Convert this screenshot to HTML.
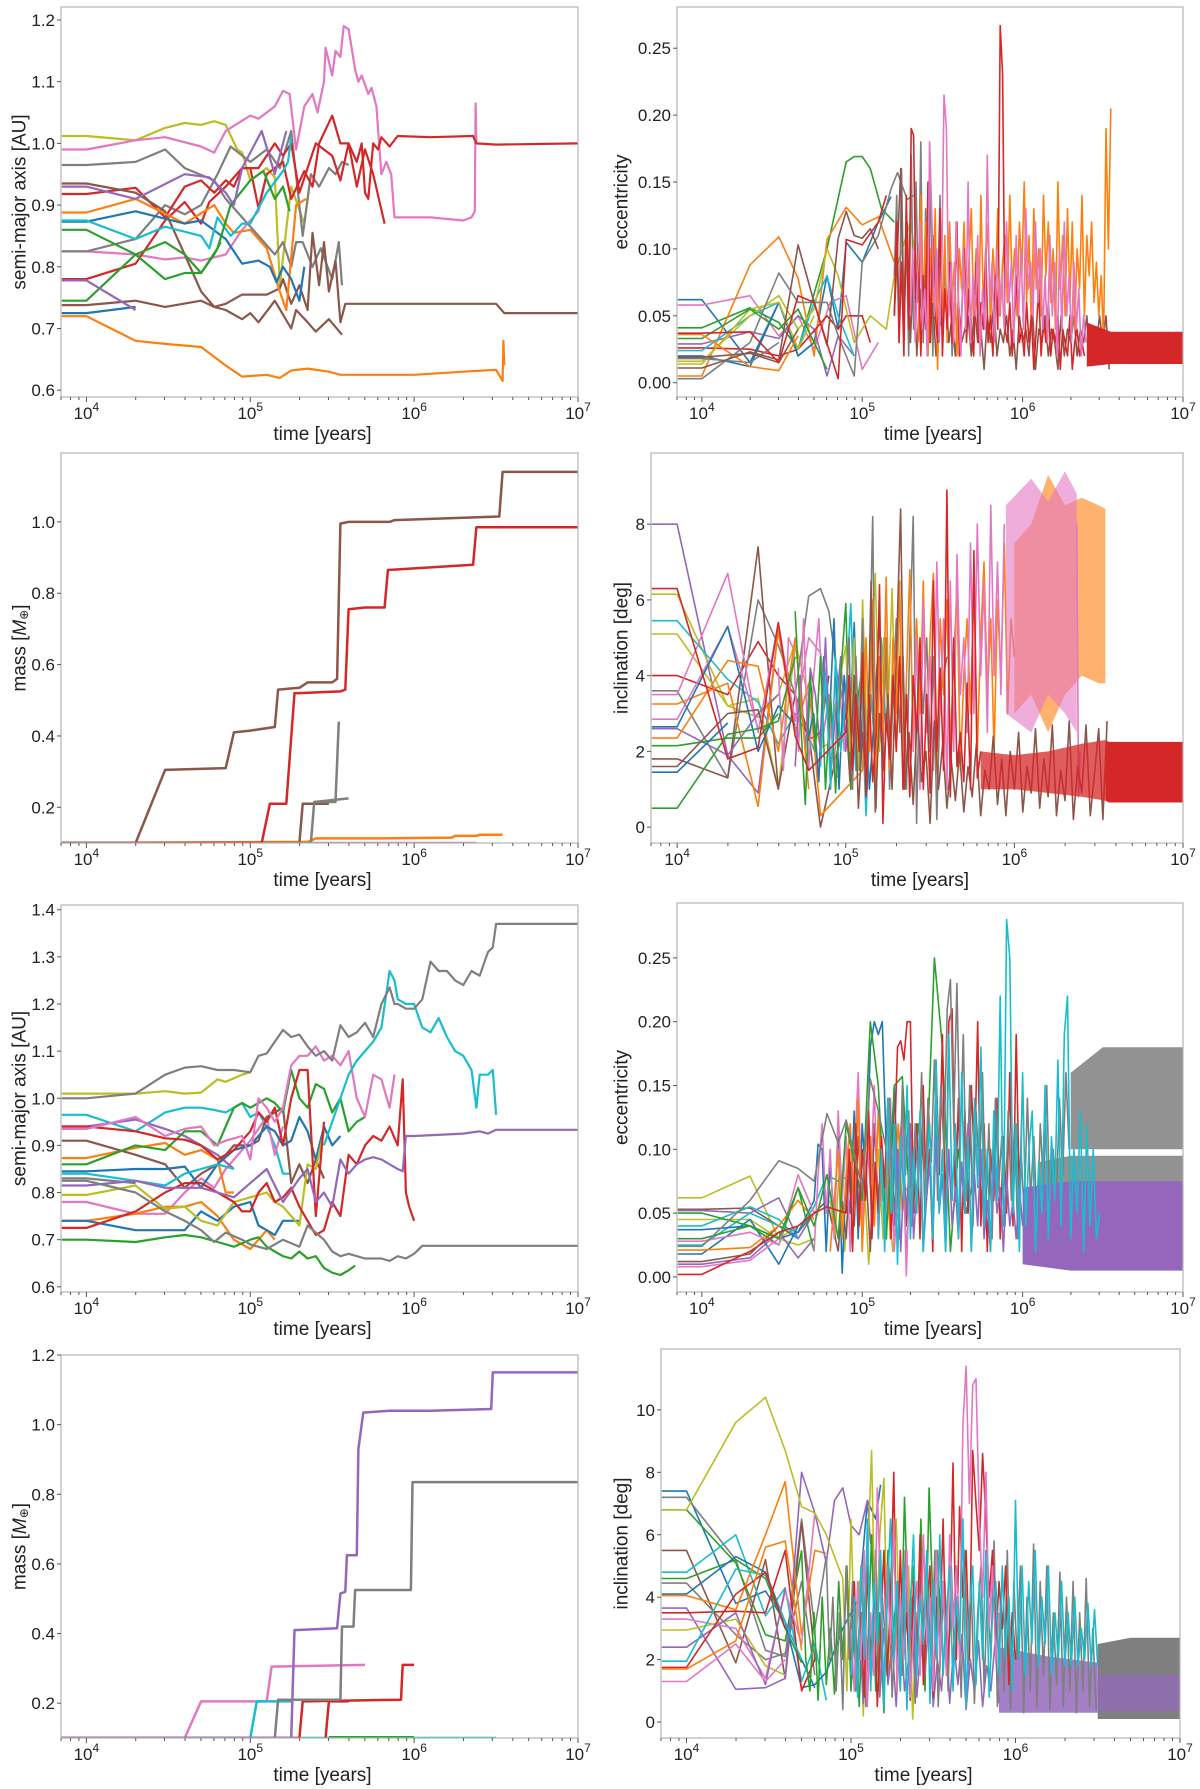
<!DOCTYPE html>
<html>
<head>
<meta charset="utf-8">
<style>
  html,body{margin:0;padding:0;background:#fff;}
  svg{display:block;font-family:"Liberation Sans","DejaVu Sans",sans-serif;}
</style>
</head>
<body>
<svg id="fig" xmlns="http://www.w3.org/2000/svg" width="1200" height="1789" viewBox="0 0 1200 1789">
  <rect width="1200" height="1789" fill="#fff"/>
</svg>
<script>
// ===== shared data: tick labels =====
const xTickExps = [4, 5, 6, 7];
const xLimLog = [3.845, 7];
const ticksA = [0.6, 0.7, 0.8, 0.9, 1.0, 1.1, 1.2];
const ticksB = [0.00, 0.05, 0.10, 0.15, 0.20, 0.25];
const ticksC = [0.2, 0.4, 0.6, 0.8, 1.0];
const ticksD = [0, 2, 4, 6, 8];
const ticksE = [0.6, 0.7, 0.8, 0.9, 1.0, 1.1, 1.2, 1.3, 1.4];
const ticksF = [0.00, 0.05, 0.10, 0.15, 0.20, 0.25];
const ticksG = [0.2, 0.4, 0.6, 0.8, 1.0, 1.2];
const ticksH = [0, 2, 4, 6, 8, 10];

const COL = {blue:'#1f77b4',orange:'#ff7f0e',green:'#2ca02c',red:'#d62728',purple:'#9467bd',brown:'#8c564b',pink:'#e377c2',gray:'#7f7f7f',olive:'#bcbd22',cyan:'#17becf'};
// style: opacity of dense-oscillation bands (keyed panel-color-startT)
const bandOpacity = {'d-orange-6':0.6,'d-pink-5.95':0.6,'d-red-5.8':0.75,'f-gray-6.3':0.85,'f-gray-6.1':0.85,'h-purple-5.9':0.85,'h-purple-6.5':0.7};

// ===== Panel A =====
const seriesA = [
 {c:'olive',t:[3.85,4,4.3,4.48,4.6,4.7,4.78,4.85,4.92,4.95,5.0,5.1,5.15,5.18,5.25,5.33,5.37],v:[1.012,1.012,1.005,1.025,1.033,1.03,1.036,1.03,0.99,0.985,0.94,0.96,0.945,0.77,0.93,0.87,0.95]},
 {c:'pink',t:[3.85,4,4.3,4.48,4.7,4.78,4.85,5.0,5.05,5.15,5.2,5.24,5.28,5.33,5.38,5.41,5.45,5.46,5.5,5.52,5.55,5.57,5.6,5.64,5.66,5.68,5.72,5.74,5.77,5.8,5.83,5.86,5.88,6.1,6.3,6.35,6.37,6.375,6.38],v:[0.99,0.99,1.005,1.01,0.995,0.985,1.02,1.045,1.04,1.06,1.085,1.08,0.99,1.06,1.08,1.05,1.1,1.155,1.11,1.15,1.14,1.19,1.185,1.12,1.1,1.11,1.08,1.09,1.06,0.95,0.97,0.95,0.88,0.88,0.875,0.88,0.89,1.065,1.0]},
 {c:'pink',t:[3.85,4,4.3,4.48,4.6,4.7,4.85,4.95,5.05,5.1],v:[0.825,0.825,0.82,0.812,0.815,0.81,0.82,0.86,0.89,0.95]},
 {c:'gray',t:[3.85,4,4.3,4.48,4.6,4.78,4.85,4.95,5.05,5.15,5.2,5.25,5.28,5.32,5.38,5.43,5.5,5.54,5.56],v:[0.965,0.965,0.97,0.99,0.96,0.94,0.91,0.88,0.85,0.82,0.84,0.8,0.84,0.84,0.8,0.83,0.78,0.84,0.77]},
 {c:'gray',t:[3.85,4,4.3,4.48,4.6,4.7,4.8,4.88,5.0,5.1,5.18,5.25,5.32,5.37,5.42,5.48,5.52,5.56,5.6],v:[0.825,0.825,0.845,0.9,0.885,0.9,0.95,0.995,0.97,0.99,0.96,1.02,0.85,0.95,0.93,0.96,0.95,0.97,0.965]},
 {c:'red',t:[3.85,4,4.3,4.48,4.6,4.7,4.75,4.85,4.95,5.05,5.15,5.2,5.25,5.3,5.4,5.45,5.5,5.55,5.6,5.65,5.7,5.75,5.82],v:[0.78,0.78,0.805,0.875,0.905,0.87,0.905,0.93,0.96,0.96,1.0,0.98,1.0,0.92,1.0,0.99,0.98,0.94,1.0,0.93,0.99,0.95,0.87]},
 {c:'red',t:[3.85,4,4.3,4.48,4.6,4.7,4.78,4.85,4.9,4.95,5.0,5.05,5.1,5.2,5.25,5.33,5.38,5.42,5.5,5.55,5.6,5.65,5.68,5.7,5.72,5.75,5.78,5.8,5.85,5.9,6.1,6.36,6.38,6.5,7],v:[0.918,0.918,0.928,0.88,0.93,0.94,0.92,0.94,0.93,0.96,0.96,0.895,0.95,0.97,0.91,0.955,0.93,1.0,1.045,1.0,1.0,0.97,1.0,0.92,0.91,1.0,0.99,1.01,0.995,1.012,1.01,1.012,1.0,0.998,1.0]},
 {c:'brown',t:[3.85,4,4.3,4.48,4.6,4.7,4.78,4.85,4.95,5.0,5.05,5.15,5.25,5.28,5.35,5.4,5.48,5.56],v:[0.935,0.935,0.92,0.89,0.82,0.76,0.735,0.73,0.715,0.725,0.71,0.745,0.7,0.73,0.71,0.695,0.715,0.69]},
 {c:'brown',t:[3.85,4,4.3,4.48,4.7,4.78,4.85,4.95,5.1,5.18,5.2,5.25,5.3,5.35,5.38,5.42,5.45,5.48,5.52,5.55,5.58,5.9,6.5,6.55,7],v:[0.738,0.738,0.745,0.735,0.745,0.735,0.74,0.755,0.755,0.765,0.78,0.74,0.77,0.73,0.855,0.77,0.84,0.76,0.81,0.71,0.74,0.74,0.74,0.725,0.725]},
 {c:'orange',t:[3.85,4,4.3,4.6,4.78,4.85,4.9,5.0,5.1,5.18,5.22,5.28,5.34],v:[0.888,0.888,0.91,0.87,0.9,0.87,0.855,0.86,0.83,0.76,0.73,0.9,0.91]},
 {c:'orange',t:[3.85,4,4.3,4.48,4.7,4.85,4.95,5.1,5.18,5.25,5.35,5.48,5.55,6.0,6.3,6.5,6.54,6.545,6.55],v:[0.72,0.72,0.68,0.675,0.67,0.64,0.622,0.625,0.62,0.632,0.635,0.63,0.625,0.625,0.63,0.633,0.615,0.68,0.64]},
 {c:'blue',t:[3.85,4,4.3,4.6,4.7,4.85,4.95,5.05,5.12,5.16,5.2,5.25,5.3,5.33],v:[0.873,0.873,0.89,0.87,0.875,0.845,0.805,0.81,0.8,0.775,0.8,0.78,0.745,0.8]},
 {c:'blue',t:[3.85,4,4.3],v:[0.725,0.725,0.735]},
 {c:'cyan',t:[3.85,4,4.3,4.48,4.7,4.75,4.8,4.88,4.95,5.0,5.1,5.2,5.23,5.25],v:[0.875,0.875,0.845,0.865,0.85,0.83,0.88,0.85,0.87,0.87,0.92,0.955,0.97,1.01]},
 {c:'green',t:[3.85,4,4.3,4.48,4.6,4.7,4.8,4.88,5.0,5.08,5.15,5.2,5.24],v:[0.86,0.86,0.82,0.78,0.79,0.79,0.83,0.9,0.94,0.955,0.91,0.93,0.89]},
 {c:'green',t:[3.85,4,4.3,4.48,4.6,4.7,4.78,4.82],v:[0.745,0.745,0.82,0.84,0.82,0.79,0.82,0.84]},
 {c:'purple',t:[3.85,4,4.3,4.6,4.75,4.85,4.9,4.95,5.07,5.15,5.22],v:[0.93,0.93,0.91,0.95,0.945,0.92,0.9,0.96,1.02,0.95,1.02]},
 {c:'purple',t:[3.85,4,4.3],v:[0.778,0.778,0.73]}
];

// ===== Panel B =====
const seriesB = [
 {c:'blue',t:[3.85,4,4.3,4.48,4.6,4.7,4.78,4.85,4.9,5.0,5.1,5.18],v:[0.062,0.062,0.015,0.06,0.02,0.03,0.08,0.04,0.105,0.09,0.12,0.139]},
 {c:'pink',t:[3.85,4,4.3,4.48,4.6,4.7,4.8,4.9,5.0,5.1],v:[0.058,0.058,0.065,0.035,0.05,0.025,0.06,0.065,0.01,0.03]},
 {c:'green',t:[3.85,4,4.3,4.48,4.6,4.78,4.9,4.95,5.0,5.05,5.12,5.2],v:[0.041,0.041,0.056,0.045,0.025,0.1,0.165,0.169,0.169,0.16,0.13,0.12]},
 {c:'orange',t:[3.85,4,4.3,4.48,4.6,4.7,4.78,4.9,5.0,5.1,5.2],v:[0.005,0.005,0.088,0.109,0.078,0.02,0.107,0.131,0.118,0.124,0.09]},
 {c:'purple',t:[3.85,4,4.3,4.48,4.6,4.7,4.78,4.85,4.95],v:[0.029,0.029,0.038,0.033,0.05,0.04,0.005,0.035,0.02]},
 {c:'red',t:[3.85,4,4.3,4.48,4.6,4.78,4.85,4.9,5.0,5.05],v:[0.026,0.026,0.025,0.02,0.025,0.05,0.04,0.05,0.05,0.03]},
 {c:'cyan',t:[3.85,4,4.3,4.48,4.6,4.7,4.78,4.85,4.95],v:[0.024,0.024,0.05,0.06,0.025,0.06,0.08,0.05,0.02]},
 {c:'blue',t:[3.85,4,4.3,4.48,4.6,4.7],v:[0.02,0.02,0.012,0.06,0.02,0.03]},
 {c:'olive',t:[3.85,4,4.3,4.48,4.6,4.7,4.78,4.85,4.95,5.05,5.15,5.2,5.3,5.35],v:[0.016,0.016,0.05,0.065,0.04,0.055,0.1,0.08,0.03,0.05,0.04,0.08,0.12,0.08]},
 {c:'olive',t:[3.85,4,4.3,4.48,4.6,4.7],v:[0.014,0.014,0.055,0.06,0.025,0.05]},
 {c:'green',t:[3.85,4,4.3,4.48,4.6,4.78],v:[0.033,0.033,0.055,0.04,0.055,0.01]},
 {c:'gray',t:[3.85,4,4.3,4.48],v:[0.018,0.018,0.015,0.03]},
 {c:'orange',t:[3.85,4,4.3,4.48,4.6],v:[0.036,0.036,0.012,0.009,0.035]},
 {c:'brown',t:[3.85,4,4.3,4.48,4.6],v:[0.019,0.019,0.022,0.015,0.04]},
 {c:'gray',t:[3.85,4,4.3,4.48,4.6,4.7,4.78,4.85,4.95,5.0,5.1,5.18,5.22,5.28,5.32],v:[0.003,0.003,0.03,0.082,0.06,0.06,0.06,0.035,0.005,0.09,0.11,0.145,0.157,0.137,0.14]},
 {c:'brown',t:[3.85,4,4.3,4.48,4.6,4.7,4.78,4.85,4.9,4.95,5.0,5.05,5.1],v:[0.011,0.011,0.023,0.017,0.103,0.06,0.028,0.108,0.128,0.11,0.108,0.115,0.1]},
 {c:'red',t:[3.85,4,4.3,4.48,4.6,4.7,4.85,4.9,5.0,5.1,5.15],v:[0.037,0.037,0.038,0.015,0.065,0.06,0.003,0.107,0.103,0.12,0.14]},
 {c:'gray',t0:5.2,dt:0.015,v:[0.08,0.14,0.03,0.16,0.05,0.12,0.02,0.17,0.04,0.15,0.06,0.18,0.03,0.13,0.05,0.16,0.02,0.11,0.06,0.14,0.03,0.09,0.05,0.1,0.02,0.06,0.04]},
 {c:'brown',t0:5.2,dt:0.02,v:[0.05,0.1,0.16,0.04,0.12,0.03,0.09,0.02,0.07,0.04,0.1,0.03,0.06,0.02,0.05,0.04,0.07,0.03,0.05,0.02,0.06,0.03,0.04,0.05,0.02,0.06,0.03,0.04,0.01,0.05,0.03,0.06,0.02,0.04,0.03,0.05,0.02,0.04,0.01,0.05,0.03,0.04,0.02,0.06,0.01,0.04,0.03,0.05,0.02,0.04,0.03,0.01,0.05,0.02,0.04,0.03,0.05,0.02,0.04,0.03,0.05,0.02,0.04,0.03,0.05,0.03,0.05,0.01]},
 {c:'orange',t0:5.35,dt:0.015,v:[0.03,0.14,0.05,0.12,0.02,0.1,0.06,0.13,0.01,0.09,0.05,0.11,0.03,0.12,0.06,0.09,0.02,0.1,0.07,0.12,0.04,0.09,0.13,0.05,0.1,0.03,0.14,0.06,0.09,0.12,0.04,0.1,0.07,0.13,0.05,0.09,0.11,0.06,0.14,0.07,0.1,0.05,0.12,0.08,0.15,0.06,0.11,0.04,0.13,0.07,0.1,0.05,0.14,0.08,0.12,0.06,0.1,0.04,0.15,0.07,0.11,0.05,0.13,0.06,0.12,0.04,0.1,0.07,0.14,0.05,0.11,0.08,0.12,0.06,0.09,0.05,0.08,0.03,0.19,0.1,0.205]},
 {c:'red',t0:5.2,dt:0.015,v:[0.05,0.12,0.03,0.09,0.02,0.14,0.04,0.19,0.185,0.06,0.1,0.02,0.08,0.04,0.15,0.03,0.11,0.05,0.03,0.13,0.02,0.07,0.04,0.09,0.03,0.06,0.12,0.02,0.05,0.1,0.03,0.07,0.04,0.02,0.09,0.03,0.06,0.04,0.1,0.03,0.05,0.02,0.08,0.04,0.267,0.23,0.04,0.03,0.06,0.02,0.05,0.08,0.03,0.04,0.02,0.06,0.03,0.05,0.01,0.04,0.07,0.02,0.05,0.03,0.06,0.02,0.04,0.03,0.05,0.01,0.04,0.03,0.02,0.05,0.01,0.03,0.04,0.02,0.03,0.02]},
 {c:'pink',t0:5.3,dt:0.015,v:[0.05,0.1,0.03,0.08,0.12,0.04,0.07,0.02,0.18,0.12,0.05,0.1,0.03,0.08,0.215,0.19,0.05,0.09,0.03,0.12,0.06,0.02,0.1,0.04,0.15,0.03,0.08,0.05,0.11,0.02,0.07,0.04,0.17,0.06,0.09,0.03,0.1,0.05,0.08,0.04,0.12,0.06,0.09,0.03,0.11,0.05,0.1,0.04,0.13,0.07,0.09,0.05,0.12,0.06,0.1,0.04,0.08,0.03,0.11,0.05,0.09,0.02,0.1,0.04,0.12,0.05,0.08,0.03,0.09,0.04,0.07,0.02,0.05,0.03]},
 {c:'red',t:[6.4,6.55,7],lo:[0.012,0.014,0.014],hi:[0.045,0.038,0.038]}
];

// ===== Panel C =====
const seriesC = [
 {c:'pink',t:[3.85,6.38],v:[0.1,0.1]},
 {c:'olive',t:[3.85,5.4],v:[0.1,0.1]},
 {c:'orange',t:[3.85,5.35,5.4,5.8,6.23,6.25,6.38,6.4,6.54],v:[0.1,0.103,0.113,0.113,0.115,0.12,0.12,0.123,0.123]},
 {c:'brown',t:[3.85,5.3,5.32,5.48],v:[0.1,0.1,0.21,0.21]},
 {c:'gray',t:[3.85,5.37,5.39,5.52,5.54],v:[0.1,0.1,0.215,0.215,0.44]},
 {c:'gray',t:[5.39,5.6],v:[0.215,0.225]},
 {c:'red',t:[3.85,5.07,5.12,5.22,5.27,5.3,5.55,5.58,5.6,5.7,5.82,5.84,6.36,6.38,7],v:[0.1,0.1,0.21,0.21,0.52,0.52,0.525,0.53,0.755,0.76,0.76,0.865,0.88,0.985,0.985]},
 {c:'brown',t:[3.85,4.3,4.48,4.85,4.9,5.0,5.15,5.17,5.3,5.35,5.5,5.53,5.55,5.6,5.85,5.88,6.52,6.54,7],v:[0.1,0.1,0.305,0.31,0.41,0.415,0.425,0.53,0.535,0.55,0.55,0.56,0.995,1.0,1.0,1.005,1.015,1.14,1.14]}
];

// ===== Panel D =====
const seriesD = [
 {c:'purple',t:[3.85,4,4.3,4.48,4.6,4.7],v:[8,8,1.9,0.9,5.2,2.6]},
 {c:'olive',t:[3.85,4,4.3,4.48,4.6,4.7],v:[6.15,6.15,3.2,3.4,1.0,4.8]},
 {c:'cyan',t:[3.85,4,4.3,4.48,4.6,4.7,4.78,4.85],v:[5.45,5.45,3.9,3.3,2.2,3.0,2.4,1.6]},
 {c:'olive',t:[3.85,4,4.3,4.48,4.6,4.7,4.85,4.9,5.0],v:[5.1,5.1,3.2,2.9,3.5,4.9,2.1,2.2,4.8]},
 {c:'red',t:[3.85,4,4.3,4.48,4.6,4.7,4.78,4.85,4.9],v:[4.0,4.0,3.5,4.9,4.0,3.5,2.3,2.5,4.0]},
 {c:'gray',t:[3.85,4,4.3,4.48,4.6,4.7,4.78,4.85,4.9,4.95,5.0],v:[3.6,3.6,1.3,6.0,4.8,3.5,6.1,6.3,5.7,4.0,3.0]},
 {c:'brown',t:[3.85,4,4.3,4.48,4.6,4.7,4.78,4.85,5.0],v:[1.8,1.8,1.3,7.4,1.0,3.5,2.5,0.0,3.0]},
 {c:'pink',t:[3.85,4,4.3,4.48,4.6,4.7,4.78,4.85,4.95],v:[3.5,3.5,6.7,2.5,5.4,2.8,5.0,4.6,1.3]},
 {c:'orange',t:[3.85,4,4.3,4.48,4.6,4.7,4.78,4.85,5.1],v:[3.25,3.25,3.8,0.55,5.2,2.5,3.8,0.3,1.5]},
 {c:'pink',t:[3.85,4,4.3,4.48],v:[2.85,2.85,5.3,2.6]},
 {c:'pink',t0:4.6,dt:0.03,v:[4.2,1.5,5.0,4.7,2.0,5.5,1.5,4.0,5.5,2.5,3.5,1.5,4.0,2.0]},
 {c:'blue',t:[3.85,4,4.3,4.48,4.6,4.7],v:[2.65,2.65,5.3,2.0,3.2,2.7]},
 {c:'blue',t0:4.78,dt:0.03,v:[2.4,3.0,1.2,4.5,2.5,5.5,1.0,4.0,2.0,5.4,1.5,4.0,1.0,3.0,5.5,1.2]},
 {c:'purple',t:[3.85,4,4.3,4.48,4.6],v:[2.6,2.6,1.9,3.0,3.5]},
 {c:'purple',t0:4.7,dt:0.03,v:[1.6,4.0,2.0,4.2,3.5,2.0,5.0,1.5,3.0,4.5,2.0,3.5,1.5,4.0,2.5]},
 {c:'orange',t:[3.85,4,4.3,4.48,4.6,4.7,4.78],v:[2.35,2.35,4.4,4.25,2.0,5.0,1.0]},
 {c:'green',t:[3.85,4,4.3,4.48,4.6],v:[2.15,2.15,2.35,2.35,3.0]},
 {c:'green',t0:4.7,dt:0.03,v:[5.7,3.0,0.6,4.0,2.0,4.5,1.0,3.5,0.9,4.0,5.9,1.0,3.0,4.0,2.0]},
 {c:'brown',t:[3.85,4,4.3,4.48,4.6],v:[1.6,1.6,3.0,3.1,1.0]},
 {c:'blue',t:[3.85,4,4.3],v:[1.45,1.45,2.75]},
 {c:'green',t:[3.85,4,4.3,4.48,4.6,4.7],v:[0.5,0.5,2.45,2.6,2.8,4.5]},
 {c:'cyan',t0:4.85,dt:0.03,v:[1.6,4.0,1.0,4.5,2.0,3.5,5.9,1.5,4.0,0.3,3.5,1.5,5.0,2.5]},
 {c:'olive',t0:5.0,dt:0.025,v:[4.8,2.0,5.0,1.5,6.0,2.5,4.5,6.7,2.0,5.0,3.0,6.3,2.0,5.0]},
 {c:'gray',t0:5.0,dt:0.02,v:[3.0,5.0,1.0,4.5,2.0,5.5,1.5,4.0,8.2,0.5,4.5,2.0,5.0,1.0,3.5,5.5,2.5,4.5,1.0,5.0,8.2,0.1,4.5,3.0,5.0,2.0,4.5,0.2,3.5,4.0,4.5]},
 {c:'orange',t0:5.1,dt:0.02,v:[1.5,5.0,2.0,6.0,1.0,4.5,2.5,6.6,1.5,5.0,3.0,6.5,1.0,4.0,6.8,2.0,5.5,3.0,6.5,2.5,5.0,6.7,1.5,5.5,3.5,6.0,2.0,4.5,6.3,1.5,4.0,5.5,3.0,6.5,2.0,5.0,7.0,3.5,5.5,2.0,6.0,4.0,7.5,3.0,5.5,4.5]},
 {c:'orange',t:[6.0,6.1,6.2,6.3,6.4,6.5,6.54],lo:[3.0,3.5,2.5,3.5,4.0,3.8,3.8],hi:[7.5,8.0,9.3,8.5,8.7,8.5,8.4]},
 {c:'pink',t0:5.4,dt:0.02,v:[2.0,5.0,1.0,6.0,2.5,4.5,1.5,7.0,3.0,5.5,1.0,6.5,2.0,7.2,3.5,5.0,2.5,7.5,3.0,8.0,4.0,6.5,2.5,8.5,4.0,7.0,3.5,8.0]},
 {c:'pink',t:[5.95,6.1,6.2,6.3,6.37],lo:[3.0,2.5,3.5,3.0,2.5],hi:[8.5,9.2,8.6,9.4,8.8]},
 {c:'pink',t:[6.37,6.38,6.39],v:[8.0,0.8,2.0]},
 {c:'brown',t0:5.0,dt:0.025,v:[3.0,1.2,4.0,0.5,2.5,1.0,6.5,0.4,3.0,1.5,3.5,1.0,4.5,8.4,1.0,2.5,0.6,3.0,1.2,2.0,0.1,2.8,1.0,2.2,0.5,1.8,0.7,2.0,0.4,1.6,0.8,2.2,0.3,1.5,1.0,2.4,0.6,1.8,0.3,2.0,1.0,2.5,0.4,1.6,0.9,2.6,0.5,1.8,0.8,2.7,0.3,1.5,0.7,2.8,0.2,1.6,0.9,2.7,0.3,1.4,2.6,0.2,2.8]},
 {c:'red',t:[3.85,4,4.3,4.48,4.6,4.7,4.78,5.0],v:[6.3,6.3,1.8,2.1,5.4,2.4,1.5,2.5]},
 {c:'red',t0:5.0,dt:0.02,v:[2.5,4.0,1.5,3.5,2.0,4.6,0.8,3.5,1.2,2.5,6.4,0.1,3.0,1.8,4.0,2.0,4.5,1.0,3.5,0.8,4.0,2.5,5.0,1.0,3.5,0.9,6.5,2.0,4.2,1.5,8.9,0.8,5.0,1.6,2.5,1.2,3.8,1.0,7.3,1.3,2.0]},
 {c:'red',t:[5.8,6.0,6.2,6.4,6.54],lo:[1.0,1.0,0.9,0.8,0.7],hi:[2.0,1.9,2.0,2.2,2.3]},
 {c:'red',t:[6.54,6.56,7],lo:[0.7,0.65,0.65],hi:[2.3,2.25,2.25]}
];

// ===== Panel E =====
const seriesE = [
 {c:'olive',t:[3.85,4,4.3,4.48,4.6,4.7,4.8,4.85,4.95,5.0],v:[1.01,1.01,1.01,1.015,1.01,1.012,1.04,1.035,1.05,1.055]},
 {c:'cyan',t:[3.85,4,4.3,4.48,4.6,4.7,4.78,4.85,4.95,5.0,5.05,5.1,5.15,5.2,5.25],v:[0.965,0.965,0.93,0.97,0.98,0.98,0.975,0.97,0.99,0.96,0.97,0.94,0.9,0.84,0.84]},
 {c:'pink',t:[3.85,4,4.3,4.48,4.6,4.7,4.78,4.85,4.9,5.0,5.1,5.15,5.2],v:[0.78,0.78,0.755,0.755,0.8,0.83,0.81,0.85,0.87,0.91,0.96,0.88,0.94]},
 {c:'purple',t:[3.85,4,4.3,4.48,4.6,4.7,4.8,4.9],v:[0.94,0.94,0.955,0.935,0.92,0.9,0.88,0.85]},
 {c:'orange',t:[3.85,4,4.3,4.48,4.6,4.7,4.8,4.85,4.9],v:[0.873,0.873,0.895,0.905,0.88,0.89,0.87,0.8,0.8]},
 {c:'orange',t:[3.85,4,4.3,4.48,4.6,4.7,4.8,4.9,5.0,5.05,5.1,5.15],v:[0.74,0.74,0.755,0.77,0.77,0.78,0.75,0.7,0.68,0.7,0.72,0.7]},
 {c:'brown',t:[3.85,4,4.3,4.48,4.6,4.7,4.8,4.85,4.9,5.0,5.05,5.1,5.15,5.2,5.25,5.3,5.35,5.4,5.45],v:[0.91,0.91,0.88,0.86,0.81,0.84,0.86,0.88,0.9,0.9,0.91,0.96,0.97,0.98,0.82,0.86,0.82,0.87,0.83]},
 {c:'blue',t:[3.85,4,4.3,4.48,4.6,4.7,4.8,4.9,5.0,5.05,5.1,5.15,5.2,5.25,5.3,5.35,5.4,5.45,5.5,5.55],v:[0.845,0.845,0.85,0.85,0.855,0.81,0.86,0.89,0.9,0.92,0.94,0.93,0.9,0.91,0.96,0.93,0.87,0.94,0.9,0.92]},
 {c:'blue',t:[3.85,4,4.3,4.48,4.6,4.7,4.8,4.9,5.0,5.05,5.1,5.15,5.2,5.3],v:[0.74,0.74,0.72,0.72,0.72,0.76,0.74,0.77,0.78,0.73,0.72,0.71,0.74,0.74]},
 {c:'cyan',t:[3.85,4,4.3,4.48,4.6,4.7,4.8,4.9],v:[0.84,0.84,0.825,0.815,0.84,0.85,0.86,0.85]},
 {c:'olive',t:[3.85,4,4.3,4.48,4.6,4.7,4.8,4.9,5.0,5.1,5.15,5.2,5.25,5.3,5.35,5.4,5.45],v:[0.795,0.795,0.815,0.765,0.77,0.74,0.73,0.78,0.79,0.8,0.78,0.77,0.75,0.73,0.86,0.85,0.93]},
 {c:'gray',t:[3.85,4,4.3],v:[0.83,0.83,0.82]},
 {c:'green',t:[3.85,4,4.3,4.48,4.6,4.7,4.8,4.9,4.95,5.0,5.05,5.1,5.15,5.2,5.25,5.3,5.35,5.4,5.45,5.5,5.55,5.6,5.65,5.7],v:[0.86,0.86,0.9,0.89,0.93,0.93,0.9,0.98,0.99,0.98,0.99,1.0,0.99,0.97,1.06,1.0,0.98,1.03,1.02,0.97,1.0,0.93,0.95,0.96]},
 {c:'green',t:[3.85,4,4.3,4.48,4.6,4.7,4.8,4.9,5.0,5.05,5.1,5.15,5.2,5.25,5.3,5.35,5.4,5.45,5.5,5.55,5.6,5.64],v:[0.7,0.7,0.695,0.705,0.71,0.705,0.695,0.685,0.7,0.705,0.685,0.675,0.665,0.66,0.675,0.66,0.665,0.64,0.63,0.625,0.635,0.645]},
 {c:'red',t:[3.85,4,4.3,4.48,4.6,4.7,4.8,4.9,5.0,5.05,5.1,5.15,5.2,5.25,5.3,5.35,5.4,5.45],v:[0.94,0.94,0.93,0.915,0.912,0.9,0.87,0.89,0.93,0.97,0.95,0.98,0.9,1.0,1.06,1.06,0.75,0.95]},
 {c:'pink',t:[3.85,4,4.3,4.48,4.6,4.7,4.78,4.85,4.95,5.0,5.05,5.1,5.15,5.2,5.25,5.3,5.35,5.4,5.45,5.5,5.55,5.6,5.65,5.7,5.75,5.8,5.85,5.88],v:[0.935,0.935,0.96,0.92,0.935,0.94,0.9,0.91,0.92,0.87,1.0,0.98,0.95,0.98,1.07,1.09,1.09,1.11,1.08,1.09,1.07,1.1,1.0,0.96,1.05,1.04,0.98,1.05]},
 {c:'red',t:[3.85,4,4.3,4.48,4.6,4.7,4.8,4.9,4.95,5.0,5.05,5.1,5.15,5.2,5.25,5.3,5.35,5.4,5.45,5.5,5.55,5.6,5.65,5.7,5.75,5.8,5.85,5.9,5.93,5.95,5.97,6.0],v:[0.725,0.725,0.76,0.8,0.82,0.82,0.8,0.78,0.76,0.76,0.8,0.82,0.78,0.79,0.81,0.77,0.74,0.71,0.72,0.78,0.75,0.88,0.86,0.9,0.92,0.91,0.94,0.9,1.04,0.8,0.77,0.74]},
 {c:'purple',t:[3.85,4,4.3,4.48,4.6,4.7,4.8,4.9,5.0,5.1,5.2,5.3,5.35,5.4,5.45,5.5,5.55,5.6,5.65,5.7,5.75,5.8,5.85,5.9,5.93,5.95,6.0,6.3,6.4,6.45,6.5,7],v:[0.815,0.815,0.825,0.81,0.81,0.81,0.8,0.79,0.82,0.85,0.78,0.83,0.85,0.78,0.8,0.77,0.87,0.84,0.86,0.87,0.875,0.87,0.86,0.85,0.845,0.92,0.92,0.925,0.93,0.925,0.933,0.933]},
 {c:'cyan',t:[5.45,5.55,5.6,5.65,5.7,5.75,5.8,5.85,5.88,5.9,5.95,6.0,6.05,6.1,6.15,6.2,6.25,6.3,6.35,6.38,6.4,6.45,6.48,6.5],v:[0.9,1.0,1.05,1.08,1.1,1.12,1.15,1.27,1.25,1.21,1.2,1.2,1.15,1.14,1.17,1.13,1.1,1.09,1.06,0.98,1.05,1.05,1.06,0.965]},
 {c:'gray',t:[3.85,4,4.3,4.48,4.6,4.7,4.78,4.85,4.95,5.0,5.1,5.2,5.3,5.35,5.45,5.5,5.55,5.6,5.7,5.8,5.85,5.9,5.95,6.0,6.05,7],v:[0.825,0.825,0.8,0.76,0.74,0.72,0.695,0.715,0.7,0.69,0.68,0.7,0.685,0.73,0.7,0.675,0.665,0.67,0.66,0.66,0.655,0.665,0.66,0.67,0.687,0.687]},
 {c:'gray',t:[3.85,4,4.3,4.48,4.6,4.7,4.8,4.9,5.0,5.05,5.1,5.15,5.2,5.25,5.3,5.35,5.4,5.45,5.5,5.55,5.6,5.65,5.7,5.75,5.8,5.85,5.88,5.9,5.95,6.0,6.05,6.1,6.15,6.2,6.25,6.3,6.35,6.4,6.45,6.48,6.5,7],v:[1.0,1.0,1.01,1.05,1.065,1.068,1.06,1.06,1.055,1.09,1.095,1.12,1.145,1.13,1.135,1.11,1.09,1.1,1.08,1.155,1.13,1.14,1.16,1.13,1.2,1.235,1.2,1.2,1.19,1.19,1.21,1.29,1.27,1.27,1.25,1.24,1.27,1.26,1.31,1.32,1.37,1.37]}
];

// ===== Panel F =====
const seriesF = [
 {c:'olive',t:[3.85,4,4.3,4.48,4.6],v:[0.062,0.062,0.079,0.03,0.04]},
 {c:'olive',t:[3.85,4,4.3,4.48,4.6,4.7],v:[0.045,0.045,0.045,0.03,0.025,0.03]},
 {c:'olive',t0:4.8,dt:0.03,v:[0.06,0.03,0.09,0.02,0.07,0.11,0.04,0.08,0.01,0.06,0.1,0.03,0.07,0.02,0.05]},
 {c:'brown',t:[3.85,4,4.3,4.48,4.6,4.7,4.78,4.85],v:[0.053,0.053,0.054,0.04,0.035,0.05,0.06,0.02]},
 {c:'brown',t0:4.85,dt:0.025,v:[0.02,0.06,0.03,0.09,0.04,0.11,0.05,0.08,0.02,0.12,0.06,0.1,0.03,0.14,0.05,0.09,0.13,0.04,0.11,0.07]},
 {c:'brown',t:[3.85,4,4.3,4.48,4.6],v:[0.012,0.012,0.018,0.04,0.03]},
 {c:'purple',t:[3.85,4,4.3,4.48,4.6,4.7],v:[0.052,0.052,0.05,0.062,0.03,0.05]},
 {c:'purple',t:[3.85,4,4.3,4.48,4.6,4.7],v:[0.01,0.01,0.015,0.035,0.015,0.03]},
 {c:'cyan',t:[3.85,4,4.3,4.48,4.6],v:[0.04,0.04,0.055,0.045,0.03]},
 {c:'cyan',t:[3.85,4,4.3,4.48,4.6,4.7,4.78,4.85,4.9],v:[0.025,0.025,0.05,0.04,0.035,0.055,0.08,0.075,0.078]},
 {c:'blue',t:[3.85,4,4.3,4.48,4.6,4.7],v:[0.037,0.037,0.04,0.03,0.035,0.06]},
 {c:'blue',t0:4.7,dt:0.025,v:[0.06,0.104,0.1,0.02,0.09,0.04,0.11,0.003,0.08,0.05,0.13,0.03,0.12,0.07,0.18,0.2,0.19,0.2,0.1,0.04,0.15,0.06,0.11,0.02]},
 {c:'blue',t:[3.85,4,4.3,4.48,4.6],v:[0.018,0.018,0.045,0.01,0.04]},
 {c:'green',t:[3.85,4,4.3,4.48,4.6,4.7],v:[0.03,0.03,0.04,0.025,0.07,0.02]},
 {c:'pink',t:[3.85,4,4.3,4.48,4.6,4.7],v:[0.028,0.028,0.035,0.025,0.08,0.05]},
 {c:'pink',t:[3.85,4,4.3,4.48],v:[0.008,0.008,0.013,0.03]},
 {c:'pink',t0:4.7,dt:0.025,v:[0.02,0.08,0.12,0.05,0.1,0.03,0.13,0.06,0.11,0.02,0.09,0.16,0.04,0.12,0.07,0.15,0.03,0.1,0.05,0.14,0.02,0.08,0.13,0.001,0.1,0.05]},
 {c:'orange',t:[3.85,4,4.3,4.48,4.6,4.7],v:[0.021,0.021,0.023,0.04,0.06,0.045]},
 {c:'orange',t0:4.8,dt:0.025,v:[0.02,0.06,0.1,0.03,0.08,0.12,0.05,0.14,0.02,0.09,0.11,0.04,0.13,0.06,0.1,0.03,0.08,0.12,0.05,0.07]},
 {c:'green',t:[3.85,4,4.3,4.48,4.6,4.7,4.78,4.85,4.9,5.0,5.05,5.1,5.15,5.2,5.25,5.3,5.35,5.4,5.45,5.5,5.55,5.6,5.65,5.7],v:[0.05,0.05,0.04,0.03,0.07,0.04,0.08,0.03,0.12,0.06,0.2,0.15,0.03,0.15,0.157,0.05,0.12,0.08,0.25,0.18,0.02,0.1,0.05,0.08]},
 {c:'red',t:[3.85,4,4.3,4.48,4.6,4.7,4.78,4.9],v:[0.002,0.002,0.02,0.035,0.04,0.05,0.055,0.05]},
 {c:'red',t0:4.9,dt:0.02,v:[0.05,0.1,0.02,0.12,0.04,0.1,0.06,0.13,0.03,0.09,0.05,0.11,0.07,0.14,0.03,0.1,0.18,0.185,0.17,0.2,0.2,0.05,0.12,0.03,0.15,0.06,0.1,0.02,0.17,0.08,0.19,0.04,0.2,0.21,0.06,0.14,0.02,0.13,0.05,0.15,0.09,0.2,0.04,0.12,0.02,0.1,0.06,0.14,0.03,0.11,0.05,0.16,0.04,0.19,0.06,0.15]},
 {c:'gray',t:[3.85,4,4.3,4.48,4.6,4.7,4.78,4.85,4.9,5.0,5.05,5.1,5.15],v:[0.024,0.024,0.06,0.091,0.085,0.075,0.128,0.105,0.123,0.07,0.155,0.13,0.1]},
 {c:'gray',t0:5.15,dt:0.02,v:[0.1,0.14,0.05,0.12,0.03,0.15,0.08,0.13,0.04,0.12,0.07,0.16,0.05,0.14,0.09,0.17,0.06,0.15,0.1,0.21,0.233,0.12,0.23,0.1,0.19,0.06,0.15,0.04,0.13,0.08,0.16,0.05,0.12,0.03,0.14,0.07,0.11,0.04,0.13,0.06,0.12,0.03,0.1,0.05,0.14,0.06,0.11,0.04,0.12,0.07,0.15,0.05,0.1,0.06,0.14,0.08,0.16,0.1]},
 {c:'gray',t:[6.3,6.5,7],lo:[0.1,0.1,0.1],hi:[0.16,0.18,0.18]},
 {c:'gray',t:[6.1,6.3,7],lo:[0.015,0.015,0.015],hi:[0.09,0.095,0.095]},
 {c:'purple',t0:5.2,dt:0.02,v:[0.04,0.1,0.02,0.08,0.05,0.12,0.03,0.07,0.1,0.02,0.06,0.09,0.03,0.11,0.05,0.08,0.02,0.1,0.04,0.07,0.03,0.09,0.05,0.12,0.02,0.08,0.04,0.1,0.03,0.06,0.02,0.09,0.05,0.07,0.02,0.08,0.04,0.06,0.03,0.07,0.04]},
 {c:'purple',t:[6.0,6.3,7],lo:[0.01,0.005,0.005],hi:[0.07,0.075,0.075]},
 {c:'cyan',t0:5.1,dt:0.02,v:[0.03,0.1,0.02,0.14,0.05,0.12,0.01,0.11,0.06,0.15,0.03,0.1,0.05,0.13,0.02,0.08,0.12,0.03,0.17,0.05,0.1,0.02,0.19,0.06,0.12,0.03,0.16,0.05,0.11,0.02,0.14,0.07,0.18,0.04,0.1,0.02,0.13,0.06,0.22,0.04,0.28,0.25,0.05,0.12,0.02,0.16,0.04,0.1,0.13,0.02,0.09,0.05,0.15,0.03,0.11,0.06,0.17,0.04,0.19,0.22,0.03,0.1,0.05,0.13,0.02,0.12,0.04,0.1,0.03,0.05]}
];

// ===== Panel G =====
const seriesG = [
 {c:'cyan',t:[3.85,6.5],v:[0.1,0.1]},
 {c:'green',t:[5.48,6.0],v:[0.102,0.102]},
 {c:'pink',t:[3.85,4.6,4.7,5.1,5.13,5.7],v:[0.1,0.1,0.205,0.205,0.305,0.31]},
 {c:'cyan',t:[3.85,5.0,5.04,5.25],v:[0.1,0.1,0.205,0.205]},
 {c:'red',t:[3.85,5.3,5.32,5.92,5.93,6.0],v:[0.1,0.1,0.205,0.21,0.31,0.31]},
 {c:'red',t:[5.46,5.48,5.6],v:[0.1,0.205,0.205]},
 {c:'gray',t:[3.85,5.15,5.17,5.55,5.56,5.63,5.64,5.98,5.99,7],v:[0.1,0.1,0.21,0.21,0.42,0.42,0.525,0.525,0.835,0.835]},
 {c:'purple',t:[3.85,5.25,5.27,5.53,5.55,5.58,5.59,5.65,5.66,5.69,5.7,5.85,6.1,6.47,6.48,7],v:[0.1,0.1,0.41,0.415,0.515,0.52,0.625,0.625,0.93,1.035,1.035,1.04,1.04,1.045,1.15,1.15]}
];

// ===== Panel H =====
const seriesH = [
 {c:'blue',t:[3.85,4,4.3,4.48,4.6,4.7,4.78],v:[7.4,7.4,3.8,4.2,3.2,2.0,1.1]},
 {c:'gray',t:[3.85,4,4.3,4.48,4.6,4.7,4.78,4.85],v:[7.2,7.2,5.2,2.3,2.1,6.5,3.0,5.3]},
 {c:'green',t:[3.85,4,4.3,4.48,4.6,4.7],v:[6.8,6.8,5.1,2.8,2.6,5.5]},
 {c:'brown',t:[3.85,4,4.3,4.48,4.6,4.7,4.78],v:[5.5,5.5,1.9,5.2,1.4,6.4,2.0]},
 {c:'cyan',t:[3.85,4,4.3,4.48,4.6,4.7,4.78,4.85],v:[4.8,4.8,6.0,3.4,4.3,1.3,2.5,0.7]},
 {c:'green',t:[3.85,4,4.3,4.48,4.6,4.7],v:[4.6,4.6,5.2,4.6,3.0,1.9]},
 {c:'gray',t:[3.85,4,4.3,4.48,4.6,4.7,4.78],v:[4.45,4.45,2.8,2.0,2.2,4.5,1.5]},
 {c:'blue',t:[3.85,4,4.3,4.48,4.6,4.7,4.78,4.85,4.95,5.05,5.1,5.15,5.18],v:[4.1,4.1,5.3,4.8,3.2,1.1,1.2,1.6,3.0,4.0,7.1,6.5,7.6]},
 {c:'orange',t:[3.85,4,4.3,4.48,4.6,4.7,4.78,4.85],v:[4.05,4.05,3.6,6.0,7.7,2.8,5.5,5.4]},
 {c:'purple',t:[3.85,4,4.3,4.48,4.6,4.7,4.78,4.85,4.9,4.95,5.0,5.05,5.1,5.12],v:[3.65,3.65,1.05,1.1,1.4,8.0,6.7,5.1,7.1,7.5,6.3,6.0,7.1,5.7]},
 {c:'red',t:[3.85,4,4.3,4.48,4.6,4.7,4.78],v:[3.5,3.5,3.55,3.5,5.5,1.0,2.0]},
 {c:'pink',t:[3.85,4,4.3,4.48,4.6,4.7,4.78],v:[3.3,3.3,3.0,1.4,4.2,2.5,6.7]},
 {c:'olive',t:[3.85,4,4.3,4.48,4.6],v:[2.95,2.95,3.3,1.8,1.5]},
 {c:'purple',t:[3.85,4,4.3,4.48,4.6],v:[2.4,2.4,3.5,1.2,4.3]},
 {c:'cyan',t:[3.85,4,4.3,4.48,4.6,4.7],v:[1.95,1.95,4.9,4.7,3.2,2.0]},
 {c:'red',t:[3.85,4,4.3,4.48,4.6],v:[1.75,1.75,4.1,4.8,3.0]},
 {c:'orange',t:[3.85,4,4.3,4.48,4.6,4.7],v:[1.7,1.7,2.6,5.6,5.8,2.3]},
 {c:'pink',t:[3.85,4,4.3,4.48,4.6],v:[1.3,1.3,2.5,1.3,2.0]},
 {c:'olive',t:[3.85,4,4.3,4.48,4.6,4.7,4.78,4.85,4.95],v:[6.8,6.8,9.6,10.4,8.7,6.9,6.7,6.0,4.6]},
 {c:'olive',t0:4.95,dt:0.025,v:[4.6,1.0,6.5,2.0,4.5,0.2,5.0,8.7,2.0,6.0,7.8,1.5,4.5,6.5,2.0,3.0,5.0,0.1,3.5,2.0]},
 {c:'green',t0:4.7,dt:0.025,v:[5.5,2.0,1.0,3.5,0.7,4.0,1.2,3.0,0.9,4.5,2.0,5.0,1.0,3.5,0.5,4.2,2.0,6.0,1.0,3.5,0.3,5.5,2.5,4.0,1.0,7.2,3.0,5.0,2.0,6.5,1.0,7.5,3.5,5.5,2.5]},
 {c:'purple',t0:5.0,dt:0.025,v:[2.0,1.0,3.0,0.6,2.5,1.5,4.5,0.8,3.0,1.2,2.5,0.5,3.5,1.0,2.0,4.0,0.8,2.5,1.5,3.5,0.5,2.0,1.0,3.0,0.6,2.5,1.2,2.8,0.4,2.0,1.0,2.6,0.5,1.8,1.0,2.5,0.6]},
 {c:'purple',t:[5.9,6.2,6.5],lo:[0.3,0.3,0.3],hi:[2.4,2.1,1.9]},
 {c:'gray',t0:4.85,dt:0.02,v:[5.3,2.0,4.0,1.0,3.5,0.4,5.0,2.0,4.5,1.0,3.0,5.0,0.5,3.5,2.0,5.5,1.0,4.0,2.5,5.0,0.8,3.0,4.5,1.5,5.5,2.0,4.0,0.6,3.5,5.0,1.5,4.5,2.0,5.5,0.5,3.0,4.5,1.0,5.0,2.0,4.0,0.8,5.5,1.5,4.5,0.6,3.5,5.0,1.0,4.5,2.0,5.8,0.5,4.0,1.0,5.5,0.4,4.5,2.0,5.0,0.3,4.0,1.0,5.7,0.5,4.5,1.5,5.0,0.4,3.5,1.2,4.8,0.5,4.0,1.0,4.5,0.3,3.5,1.0,4.6,0.5,3.0,0.4]},
 {c:'red',t0:5.0,dt:0.02,v:[2.0,4.5,1.0,3.5,0.8,5.0,2.0,4.0,0.5,3.0,5.5,1.5,4.0,8.0,1.0,5.5,2.0,3.5,0.7,4.5,2.5,6.0,1.2,3.5,5.0,0.8,4.0,2.5,6.5,1.5,3.0,8.3,2.0,6.9,4.0,5.5,2.0,8.7,7.0,5.5,8.6,6.5,4.0,5.5,2.5,4.5,3.0,5.0,1.2,3.5,2.0]},
 {c:'pink',t0:5.0,dt:0.02,v:[3.0,1.0,4.5,2.0,5.5,0.5,3.5,1.5,7.5,4.0,1.0,5.0,2.5,6.5,1.0,4.0,2.0,5.5,0.8,3.0,4.5,1.5,6.0,2.5,4.0,1.0,5.5,2.0,4.5,1.5,6.0,3.0,5.0,2.0,9.5,11.4,7.0,10.8,11.0,6.5,4.0,8.0,3.0,5.0,2.0,3.5]},
 {c:'cyan',t0:5.0,dt:0.02,v:[1.5,4.0,0.8,5.0,2.0,6.5,1.0,4.5,2.5,5.5,0.5,4.0,6.5,2.0,4.5,1.0,5.0,0.4,3.5,6.0,1.5,4.0,2.5,5.5,0.6,4.5,2.0,6.0,1.5,3.5,5.0,1.0,4.0,2.5,6.5,0.5,3.5,5.0,1.2,4.5,2.0,5.5,0.8,3.5,4.5,1.5,5.0,2.0,4.0,1.0,7.1,2.0,5.0,1.5,4.5,2.5,5.5,1.8,4.0,2.5,5.0,1.5,3.5,2.0,4.5,1.8,3.5,1.8,4.0,1.8,3.0,2.0,3.8,1.8,3.6,1.8]},
 {c:'gray',t:[6.5,6.7,7],lo:[0.1,0.1,0.1],hi:[2.5,2.7,2.7]},
 {c:'purple',t:[6.5,7],lo:[0.35,0.35],hi:[1.5,1.5]}
];

// ===== layout (geometry only) =====
const panels = [
 {id:'a',x0:61,x1:578,y0:7,y1:397,ymin:0.589,ymax:1.221,ticks:ticksA,dec:1,label:'semi-major axis [AU]',lx:20,lw:2.2,data:seriesA},
 {id:'b',x0:677,x1:1183,y0:7,y1:397,ymin:-0.0107,ymax:0.2808,ticks:ticksB,dec:2,label:'eccentricity',lx:622,lw:1.6,data:seriesB},
 {id:'c',x0:61,x1:578,y0:453,y1:843,ymin:0.1,ymax:1.193,ticks:ticksC,dec:1,label:'mass',lx:20,lw:2.5,data:seriesC},
 {id:'d',x0:651,x1:1183,y0:453,y1:843,ymin:-0.42,ymax:9.88,ticks:ticksD,dec:0,label:'inclination [deg]',lx:622,lw:1.6,data:seriesD},
 {id:'e',x0:61,x1:578,y0:905,y1:1292,ymin:0.589,ymax:1.41,ticks:ticksE,dec:1,label:'semi-major axis [AU]',lx:20,lw:2.2,data:seriesE},
 {id:'f',x0:677,x1:1183,y0:903,y1:1292,ymin:-0.0118,ymax:0.293,ticks:ticksF,dec:2,label:'eccentricity',lx:622,lw:1.6,data:seriesF},
 {id:'g',x0:61,x1:578,y0:1355,y1:1738,ymin:0.1,ymax:1.2,ticks:ticksG,dec:1,label:'mass',lx:20,lw:2.5,data:seriesG},
 {id:'h',x0:661,x1:1180,y0:1349,y1:1738,ymin:-0.51,ymax:11.95,ticks:ticksH,dec:0,label:'inclination [deg]',lx:622,lw:1.6,data:seriesH}
];

const NS = 'http://www.w3.org/2000/svg';
const svg = document.getElementById('fig');
function mk(tag, attrs, parent){
  const e = document.createElementNS(NS, tag);
  for (const k in attrs) e.setAttribute(k, attrs[k]);
  (parent || svg).appendChild(e);
  return e;
}

const defs = mk('defs', {});
panels.forEach(p => {
  const g = mk('g', {});
  
  
  const xs = lt => p.x0 + (lt - xLimLog[0]) / (xLimLog[1] - xLimLog[0]) * (p.x1 - p.x0);
  const ys = v => p.y1 - (v - p.ymin) / (p.ymax - p.ymin) * (p.y1 - p.y0);

  const cp = mk('clipPath', {id: 'clip-' + p.id}, defs);
  mk('rect', {x: p.x0, y: p.y0, width: p.x1 - p.x0, height: p.y1 - p.y0}, cp);

  const plot = mk('g', {'clip-path': 'url(#clip-' + p.id + ')'}, g);
  
  

  p.data.forEach(s => {
    const col = COL[s.c];
    if (s.lo) {
      let d = '';
      s.t.forEach((t, j) => { d += (j ? 'L' : 'M') + xs(t).toFixed(1) + ',' + ys(s.hi[j]).toFixed(1); });
      for (let j = s.t.length - 1; j >= 0; j--) d += 'L' + xs(s.t[j]).toFixed(1) + ',' + ys(s.lo[j]).toFixed(1);
      d += 'Z';
      const key = p.id + '-' + s.c + '-' + s.t[0];
      const op = (bandOpacity[key] !== undefined) ? bandOpacity[key] : 1;
      const b = mk('path', {d: d, fill: col, 'fill-opacity': op, stroke: 'none'}, plot);
      
      
    } else {
      const ts = s.t ? s.t : s.v.map((_, j) => s.t0 + j * s.dt);
      let d = '';
      ts.forEach((t, j) => { d += (j ? 'L' : 'M') + xs(t).toFixed(1) + ',' + ys(s.v[j]).toFixed(1); });
      const l = mk('path', {d: d, fill: 'none', stroke: col, 'stroke-width': p.lw, 'stroke-linejoin': 'round'}, plot);
      
      
    }
  });

  const frame = mk('rect', {x: p.x0, y: p.y0, width: p.x1 - p.x0, height: p.y1 - p.y0, fill: 'none', stroke: '#b5b5b5', 'stroke-width': 1.2}, g);
  
  

  for (let e = 3; e <= 6; e++) {
    for (let m = 1; m <= 9; m++) {
      const lt = e + Math.log10(m);
      if (lt < xLimLog[0] || lt > xLimLog[1]) continue;
      const xx = xs(lt);
      const major = (m === 1);
      const tk = mk('line', {x1: xx, x2: xx, y1: p.y1, y2: p.y1 + (major ? 5 : 3), stroke: '#555', 'stroke-width': 1}, g);
      
      
    }
  }
  const t7 = mk('line', {x1: xs(7), x2: xs(7), y1: p.y1, y2: p.y1 + 5, stroke: '#555', 'stroke-width': 1}, g);
  
  

  xTickExps.forEach(ex => {
    const tx = mk('text', {x: xs(ex), y: p.y1 + 22, 'font-size': 17, 'text-anchor': 'middle', fill: '#222'}, g);
    
    
    tx.textContent = '10';
    const sup = mk('tspan', {dy: -8, 'font-size': 12}, tx);
    sup.textContent = String(ex);
  });

  const xl = mk('text', {x: (p.x0 + p.x1) / 2 + 3, y: p.y1 + 43, 'font-size': 19, 'text-anchor': 'middle', fill: '#222'}, g);
  
  
  xl.textContent = 'time [years]';

  p.ticks.forEach(v => {
    const yy = ys(v);
    const tk = mk('line', {x1: p.x0 - 4, x2: p.x0, y1: yy, y2: yy, stroke: '#555', 'stroke-width': 1}, g);
    
    
    const tl = mk('text', {x: p.x0 - 6, y: yy + 6, 'font-size': 17, 'text-anchor': 'end', fill: '#222'}, g);
    
    
    tl.textContent = v.toFixed(p.dec);
  });

  const cy = (p.y0 + p.y1) / 2;
  const yl = mk('text', {x: p.lx, y: cy, 'font-size': 19, 'text-anchor': 'middle', 'dominant-baseline': 'central', fill: '#222', transform: 'rotate(-90 ' + p.lx + ' ' + cy + ')'}, g);
  
  
  if (p.label === 'mass') {
    yl.appendChild(document.createTextNode('mass ['));
    const mi = mk('tspan', {'font-style': 'italic'}, yl);
    mi.textContent = 'M';
    const sub = mk('tspan', {'font-size': 12, dy: 4}, yl);
    sub.textContent = '⊕';
    const cl = mk('tspan', {dy: -4}, yl);
    cl.textContent = ']';
  } else {
    yl.textContent = p.label;
  }
});
</script>
</body>
</html>
